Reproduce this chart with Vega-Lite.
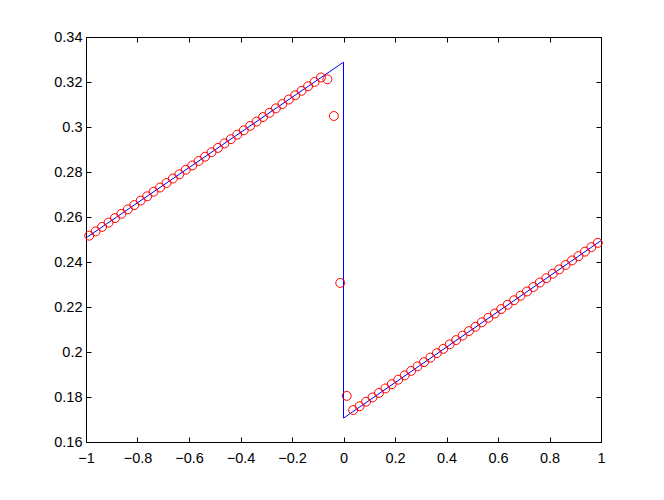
{
  "$schema": "https://vega.github.io/schema/vega-lite/v6.json",
  "width": 515,
  "height": 405,
  "autosize": {"type": "none"},
  "padding": {"left": 86, "top": 37, "right": 63, "bottom": 58},
  "background": "white",
  "config": {
    "view": {"stroke": "black", "strokeWidth": 1},
    "axis": {
      "domainColor": "black",
      "tickColor": "black",
      "tickSize": -5,
      "labelFont": "Liberation Sans",
      "labelFontSize": 14.5,
      "labelColor": "black",
      "grid": false,
      "title": null
    }
  },
  "datasets": {
    "line": [
      {"x": -1, "y": 0.2507, "o": 1},
      {"x": 0, "y": 0.3288, "o": 2},
      {"x": 0, "y": 0.1706, "o": 3},
      {"x": 1, "y": 0.2495, "o": 4}
    ],
    "pts": [
      {"x": -0.9875, "y": 0.2517}, {"x": -0.9625, "y": 0.2536}, {"x": -0.9375, "y": 0.2556}, {"x": -0.9125, "y": 0.2575},
      {"x": -0.8875, "y": 0.2595}, {"x": -0.8625, "y": 0.2614}, {"x": -0.8375, "y": 0.2634}, {"x": -0.8125, "y": 0.2653},
      {"x": -0.7875, "y": 0.2673}, {"x": -0.7625, "y": 0.2692}, {"x": -0.7375, "y": 0.2712}, {"x": -0.7125, "y": 0.2731},
      {"x": -0.6875, "y": 0.2751}, {"x": -0.6625, "y": 0.2771}, {"x": -0.6375, "y": 0.2790}, {"x": -0.6125, "y": 0.2810},
      {"x": -0.5875, "y": 0.2829}, {"x": -0.5625, "y": 0.2849}, {"x": -0.5375, "y": 0.2868}, {"x": -0.5125, "y": 0.2888},
      {"x": -0.4875, "y": 0.2907}, {"x": -0.4625, "y": 0.2927}, {"x": -0.4375, "y": 0.2946}, {"x": -0.4125, "y": 0.2966},
      {"x": -0.3875, "y": 0.2985}, {"x": -0.3625, "y": 0.3005}, {"x": -0.3375, "y": 0.3024}, {"x": -0.3125, "y": 0.3044},
      {"x": -0.2875, "y": 0.3063}, {"x": -0.2625, "y": 0.3083}, {"x": -0.2375, "y": 0.3102}, {"x": -0.2125, "y": 0.3122},
      {"x": -0.1875, "y": 0.3141}, {"x": -0.1625, "y": 0.3161}, {"x": -0.1375, "y": 0.3181}, {"x": -0.1125, "y": 0.3200},
      {"x": -0.0875, "y": 0.3220}, {"x": -0.0625, "y": 0.3212}, {"x": -0.0375, "y": 0.3049}, {"x": -0.0125, "y": 0.2307},
      {"x": 0.0125, "y": 0.1805}, {"x": 0.0375, "y": 0.1742}, {"x": 0.0625, "y": 0.1759}, {"x": 0.0875, "y": 0.1779},
      {"x": 0.1125, "y": 0.1798}, {"x": 0.1375, "y": 0.1818}, {"x": 0.1625, "y": 0.1838}, {"x": 0.1875, "y": 0.1857},
      {"x": 0.2125, "y": 0.1877}, {"x": 0.2375, "y": 0.1896}, {"x": 0.2625, "y": 0.1916}, {"x": 0.2875, "y": 0.1936},
      {"x": 0.3125, "y": 0.1955}, {"x": 0.3375, "y": 0.1975}, {"x": 0.3625, "y": 0.1995}, {"x": 0.3875, "y": 0.2014},
      {"x": 0.4125, "y": 0.2034}, {"x": 0.4375, "y": 0.2053}, {"x": 0.4625, "y": 0.2073}, {"x": 0.4875, "y": 0.2093},
      {"x": 0.5125, "y": 0.2112}, {"x": 0.5375, "y": 0.2132}, {"x": 0.5625, "y": 0.2152}, {"x": 0.5875, "y": 0.2171},
      {"x": 0.6125, "y": 0.2191}, {"x": 0.6375, "y": 0.2210}, {"x": 0.6625, "y": 0.2230}, {"x": 0.6875, "y": 0.2250},
      {"x": 0.7125, "y": 0.2269}, {"x": 0.7375, "y": 0.2289}, {"x": 0.7625, "y": 0.2309}, {"x": 0.7875, "y": 0.2328},
      {"x": 0.8125, "y": 0.2348}, {"x": 0.8375, "y": 0.2367}, {"x": 0.8625, "y": 0.2387}, {"x": 0.8875, "y": 0.2407},
      {"x": 0.9125, "y": 0.2426}, {"x": 0.9375, "y": 0.2446}, {"x": 0.9625, "y": 0.2466}, {"x": 0.9875, "y": 0.2485}
    ]
  },
  "layer": [
    {
      "data": {"name": "line"},
      "mark": {"type": "line", "color": "#0000ff", "strokeWidth": 1, "clip": true},
      "encoding": {
        "x": {"field": "x", "type": "quantitative", "scale": {"domain": [-1, 1], "nice": false, "zero": false},
          "axis": {"orient": "bottom", "values": [-1, -0.8, -0.6, -0.4, -0.2, 0, 0.2, 0.4, 0.6, 0.8, 1], "format": "~g", "labelPadding": 14, "labelFlush": false}},
        "y": {"field": "y", "type": "quantitative", "scale": {"domain": [0.16, 0.34], "nice": false, "zero": false},
          "axis": {"orient": "left", "values": [0.16, 0.18, 0.2, 0.22, 0.24, 0.26, 0.28, 0.3, 0.32, 0.34], "format": "~g", "labelPadding": 9, "labelFlush": false}},
        "order": {"field": "o", "type": "quantitative"}
      }
    },
    {
      "data": {"name": "pts"},
      "mark": {"type": "point", "shape": "circle", "filled": false, "color": "#ff0000", "size": 80, "strokeWidth": 1, "opacity": 1},
      "encoding": {
        "x": {"field": "x", "type": "quantitative",
          "axis": {"orient": "top", "values": [-1, -0.8, -0.6, -0.4, -0.2, 0, 0.2, 0.4, 0.6, 0.8, 1], "labels": false}},
        "y": {"field": "y", "type": "quantitative",
          "axis": {"orient": "right", "values": [0.16, 0.18, 0.2, 0.22, 0.24, 0.26, 0.28, 0.3, 0.32, 0.34], "labels": false}}
      }
    }
  ],
  "resolve": {"axis": {"x": "independent", "y": "independent"}}
}
